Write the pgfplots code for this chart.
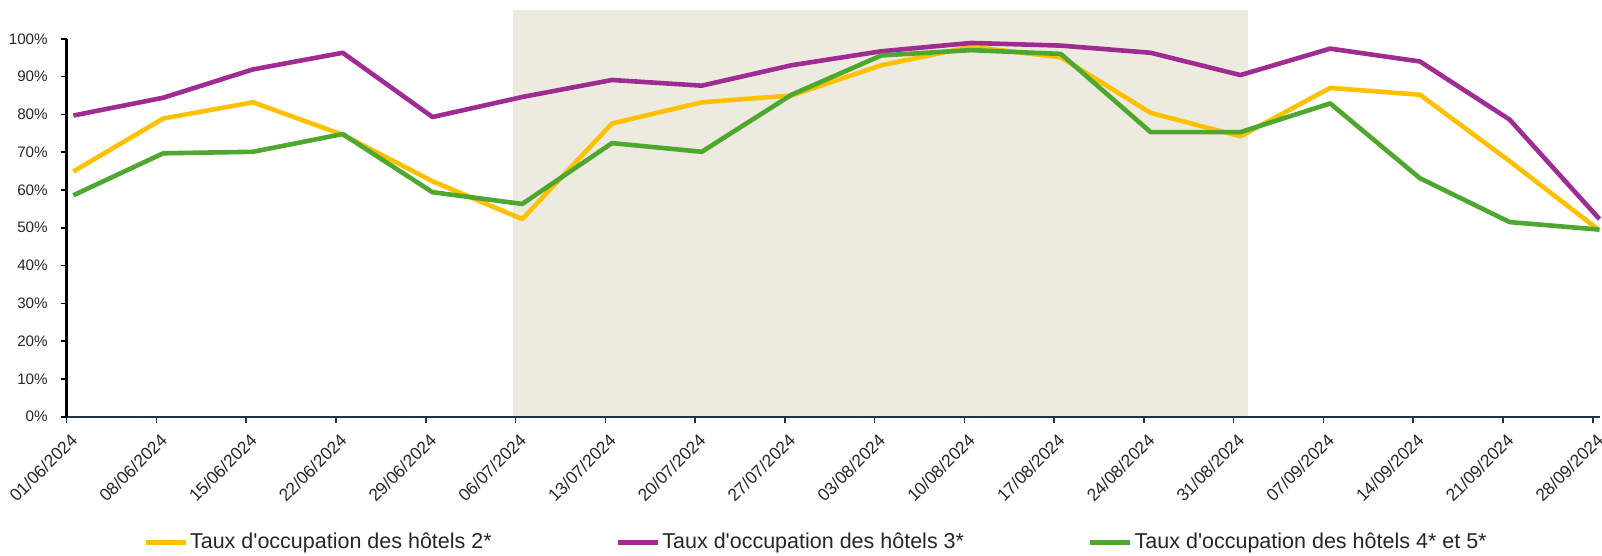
\documentclass[border=0pt]{standalone}
\usepackage{pgfplots}
\pgfplotsset{compat=1.18}
\usepackage{fontspec}
\setmainfont{Liberation Sans}
\definecolor{cyel}{HTML}{FFC000}
\definecolor{cpur}{HTML}{A02B93}
\definecolor{cgrn}{HTML}{4EA72E}
\definecolor{cshade}{HTML}{EDEBE0}
\definecolor{caxis}{HTML}{1C3443}
\begin{document}
\begin{tikzpicture}
\useasboundingbox (-33.35bp,-69.65bp) rectangle (767.65bp,208.35bp);
\begin{axis}[
  at={(0,0)}, anchor=south west,
  scale only axis, width=766.6bp, height=188.95bp,
  xmin=0, xmax=17.08, ymin=0, ymax=100,
  clip=false, axis on top,
  axis x line=bottom, axis y line=left,
  x axis line style={-, draw=caxis, line width=1bp},
  y axis line style={-, draw=black, line width=1.4bp},
  xtick={0,...,17},
  xticklabels={01/06/2024,08/06/2024,15/06/2024,22/06/2024,29/06/2024,06/07/2024,13/07/2024,20/07/2024,27/07/2024,03/08/2024,10/08/2024,17/08/2024,24/08/2024,31/08/2024,07/09/2024,14/09/2024,21/09/2024,28/09/2024},
  ytick={0,10,...,100},
  yticklabels={0\%,10\%,20\%,30\%,40\%,50\%,60\%,70\%,80\%,90\%,100\%},
  tick align=outside, major tick length=3bp,
  x tick style={draw=caxis, line width=0.8bp},
  y tick style={draw=black, line width=0.8bp},
  xticklabel style={xshift=1.4bp, yshift=-4.6bp, rotate=45, anchor=north east, inner sep=0pt, font=\fontsize{8.7bp}{10bp}\selectfont, text=black!85},
  yticklabel style={xshift=-6.3bp, anchor=east, inner sep=0pt, font=\fontsize{7.6bp}{9bp}\selectfont, text=black!85},
  legend columns=3,
  legend image code/.code={\draw[#1] (0bp,0bp) -- (20bp,0bp);},
  legend style={at={(0.0498,-0.333)}, anchor=west, draw=none, fill=none, inner sep=0pt,
    font=\fontsize{10.75bp}{12bp}\selectfont, text=black!85,
    nodes={inner sep=1bp},
    /tikz/every even column/.append style={column sep=61bp}},
]
\addplot[forget plot, fill=cshade, draw=none] coordinates {(4.97,0) (4.97,107.6) (13.16,107.6) (13.16,0)} -- cycle;
\addplot[cyel, line width=2.3bp, line join=round] coordinates {
(0.075,64.9) (1.075,78.9) (2.075,83.2) (3.075,74.6) (4.075,62.3) (5.075,52.3)
(6.075,77.6) (7.075,83.2) (8.075,85.0) (9.075,93.0) (10.075,97.9) (11.075,95.1)
(12.075,80.4) (13.075,74.2) (14.075,87.0) (15.075,85.2) (16.075,67.6) (17.075,49.3)};
\addlegendentry{Taux d\textquotesingle occupation des hôtels 2*}
\addplot[cpur, line width=2.3bp, line join=round] coordinates {
(0.075,79.7) (1.075,84.4) (2.075,91.9) (3.075,96.3) (4.075,79.3) (5.075,84.6)
(6.075,89.1) (7.075,87.6) (8.075,93.0) (9.075,96.7) (10.075,98.9) (11.075,98.2)
(12.075,96.3) (13.075,90.4) (14.075,97.4) (15.075,94.0) (16.075,78.6) (17.075,52.3)};
\addlegendentry{Taux d\textquotesingle occupation des hôtels 3*}
\addplot[cgrn, line width=2.3bp, line join=round] coordinates {
(0.075,58.6) (1.075,69.7) (2.075,70.1) (3.075,74.8) (4.075,59.4) (5.075,56.3)
(6.075,72.4) (7.075,70.1) (8.075,85.2) (9.075,95.6) (10.075,97.0) (11.075,96.0)
(12.075,75.3) (13.075,75.3) (14.075,82.9) (15.075,63.1) (16.075,51.5) (17.075,49.5)};
\addlegendentry{Taux d\textquotesingle occupation des hôtels 4* et 5*}
\end{axis}
\end{tikzpicture}
\end{document}
